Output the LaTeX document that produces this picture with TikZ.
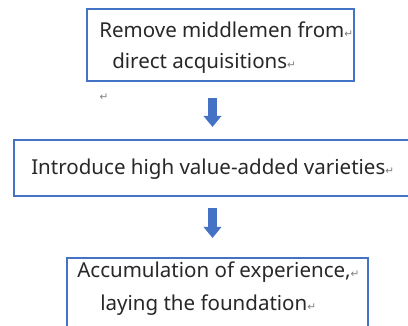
\documentclass[tikz,border=0pt]{standalone}
\usepackage{fontspec}
\setmainfont{Noto Sans}
\newfontfamily\markfont{DejaVu Sans}
\usetikzlibrary{arrows.meta}

\definecolor{boxblue}{RGB}{68,114,196}
\definecolor{txtgray}{RGB}{40,40,40}

\tikzset{
	flowbox/.style={draw=boxblue, line width=0.9pt, rectangle, inner sep=0pt},
	flowtxt/.style={anchor=base west, inner sep=0pt, text=txtgray, font=\fontsize{14.6}{16}\selectfont},
	flowarrow/.style={draw=boxblue, line width=5.8pt, -{Triangle[width=12.5pt,length=8pt]}, shorten >=0pt},
	parmark/.style={inner sep=0pt, text=gray, font=\markfont\fontsize{7.5}{8}\selectfont}
}

\newcommand{\pmark}{{\markfont\fontsize{7.5}{8}\selectfont\textcolor{gray}{↵}}}

\begin{document}
\begin{tikzpicture}[x=0.025cm, y=-0.025cm]

	\useasboundingbox (0,0) rectangle (408,325);
	\clip (0,0) rectangle (408,325);

	% boxes
	\node[flowbox, minimum width=267*0.025cm, minimum height=72*0.025cm] (box1) at (220.5,45) {};
	\node[flowbox, minimum width=410*0.025cm, minimum height=56*0.025cm] (box2) at (219,168) {};
	\node[flowbox, minimum width=301*0.025cm, minimum height=100*0.025cm] (box3) at (217.5,308) {};

	% texts
	\node[flowtxt] (t1) at (99,37) {Remove middlemen from\pmark};
	\node[flowtxt] (t2) at (112,68) {direct acquisitions\pmark};
	\node[parmark] (m1) at (104,97) {↵};
	\node[flowtxt] (t3) at (31,174) {Introduce high value-added varieties\pmark};
	\node[flowtxt] (t4) at (77,277) {Accumulation of experience,\pmark};
	\node[flowtxt] (t5) at (100,310) {laying the foundation\pmark};

	% arrows
	\coordinate (a1s) at (212.5,98);  \coordinate (a1e) at (212.5,127);
	\coordinate (a2s) at (212.5,208); \coordinate (a2e) at (212.5,238);
	\draw[flowarrow] (a1s) to (a1e);
	\draw[flowarrow] (a2s) to (a2e);

\end{tikzpicture}
\end{document}
